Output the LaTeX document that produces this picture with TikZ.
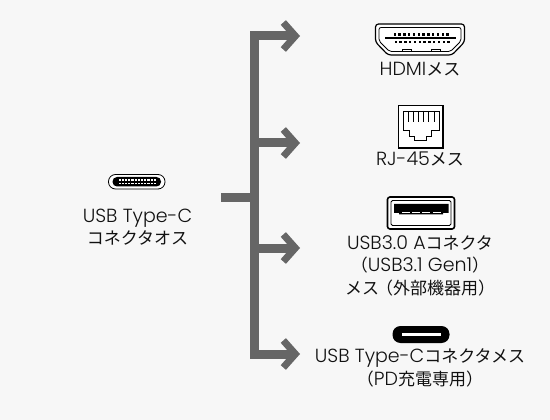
\documentclass[tikz,border=0pt]{standalone}
\usepackage{fontspec}
\setmainfont{Poppins Light}
\newfontfamily\jpfont{Noto Sans CJK JP}
\newcommand{\jp}[1]{{\jpfont\fontsize{17}{22.5}\selectfont #1}}
\usetikzlibrary{arrows.meta}
\definecolor{pagebg}{HTML}{F7F7F7}
\definecolor{trunkgray}{HTML}{666666}
\definecolor{labelgray}{HTML}{111111}
\tikzset{
  portlabel/.style={text=labelgray, align=center, inner sep=0pt,
    font=\fontsize{19}{22.5}\selectfont},
  trunk/.style={trunkgray, line width=9pt},
  branch/.style={trunkgray, line width=9pt,
    -{Straight Barb[length=12pt,width=27pt,line width=7pt]}},
  iconline/.style={black, line width=1.2pt},
  thinline/.style={black, line width=0.8pt}
}
\begin{document}
\begin{tikzpicture}[x=1pt,y=-1pt]
  \useasboundingbox[fill=pagebg] (0,0) rectangle (550,420);
  % trunk and branches
  \coordinate (stub) at (221,198);
  \coordinate (stubend) at (254,198);
  \coordinate (top) at (254,31.5);
  \coordinate (bottom) at (254,358.5);
  \foreach \name/\y in {hdmi/36,rj/143,usba/248,usbc/354}{
    \coordinate (\name from) at (250,\y);
    \coordinate (\name to) at (300,\y);
    \draw[branch] (\name from) -- (\name to);
  }
  \draw[trunk] (top) -- (bottom);
  \draw[trunk] (stub) -- (stubend);

  % USB-C plug, left
  \draw[thinline, fill=white, rounded corners=7pt] (108.5,174.5) rectangle (165,189);
  \fill[black, rounded corners=4.5pt] (112.5,177) rectangle (161,186.5);
  \foreach \x in {0,...,11}{
    \fill[white] (118.5+\x*3.2,179.2) rectangle ++(2.2,1.6);
    \fill[white] (118.5+\x*3.2,182.6) rectangle ++(2.2,1.6);
  }
  \node[portlabel] (plug) at (137.5,227) {USB Type-C\\\jp{コネクタオス}};

  % HDMI
  \draw[iconline, fill=white, rounded corners=3pt]
    (375.5,24) -- (464.5,24) -- (464.5,42) -- (452,55) -- (388,55) -- (375.5,42) -- cycle;
  \draw[thinline, rounded corners=2pt]
    (379,27.5) -- (461,27.5) -- (461,41) -- (450.5,51.5) -- (389.5,51.5) -- (379,41) -- cycle;
  \fill[black] (385,36.8) rectangle (456,39.2);
  \foreach \x in {0,...,11}
    \fill[black] (393.5+\x*4.8,33.2) rectangle ++(2.4,2.4);
  \foreach \x in {0,...,11}
    \fill[black] (394.5+\x*4.8,40.6) rectangle ++(2.4,2.4);
  \draw[thinline] (402.8,51.5) -- (402.8,49.3) -- (411.5,49.3) -- (411.5,51.5);
  \draw[thinline] (431.8,51.5) -- (431.8,49.3) -- (440.8,49.3) -- (440.8,51.5);
  \node[portlabel] (hdmi) at (420,69) {HDMI\jp{メス}};

  % RJ-45
  \draw[line width=1.3pt, black, fill=white] (398.5,105.5) rectangle (443,148);
  \draw[thinline]
    (403,111) -- (439,111) -- (439,130) -- (431.5,130) -- (431.5,136.5) -- (426.5,136.5)
    -- (426.5,140.5) -- (414.5,140.5) -- (414.5,136.5) -- (409.5,136.5) -- (409.5,130)
    -- (403,130) -- cycle;
  \foreach \x in {0,...,5}
    \draw[thinline] (408+\x*5.2,111) -- (408+\x*5.2,122);
  \node[portlabel] (rj) at (420,159) {RJ-45\jp{メス}};

  % USB-A
  \draw[line width=1.6pt, black, fill=white, rounded corners=2.5pt] (387.5,197) rectangle (454.5,229);
  \draw[thinline, rounded corners=1.5pt] (391,200.5) rectangle (451,225.5);
  \fill[black] (394,204) -- (448.5,204) -- (448.5,213) -- (443,213) -- (443,214.5) -- (399,214.5) -- (399,213) -- (394,213) -- cycle;
  \foreach \x in {0,...,3}
    \fill[white] (401.5+\x*10.4,212) rectangle ++(8,1.2);
  \node[portlabel] (usba) at (420,265.5)
    {USB3.0 A\jp{コネクタ}\\\jp{（}USB3.1 Gen1\jp{）}\\\jp{メス\hspace{-3pt}（外部機器用）}};

  % USB-C receptacle
  \fill[black, rounded corners=8pt] (392.5,326) rectangle (449.5,343);
  \fill[white] (401.5,333.2) rectangle (440.5,335.8);
  \node[portlabel] (usbc) at (420,368) {USB Type-C\jp{コネクタメス}\\\jp{（}PD\jp{充電専用）}};
\end{tikzpicture}
\end{document}
